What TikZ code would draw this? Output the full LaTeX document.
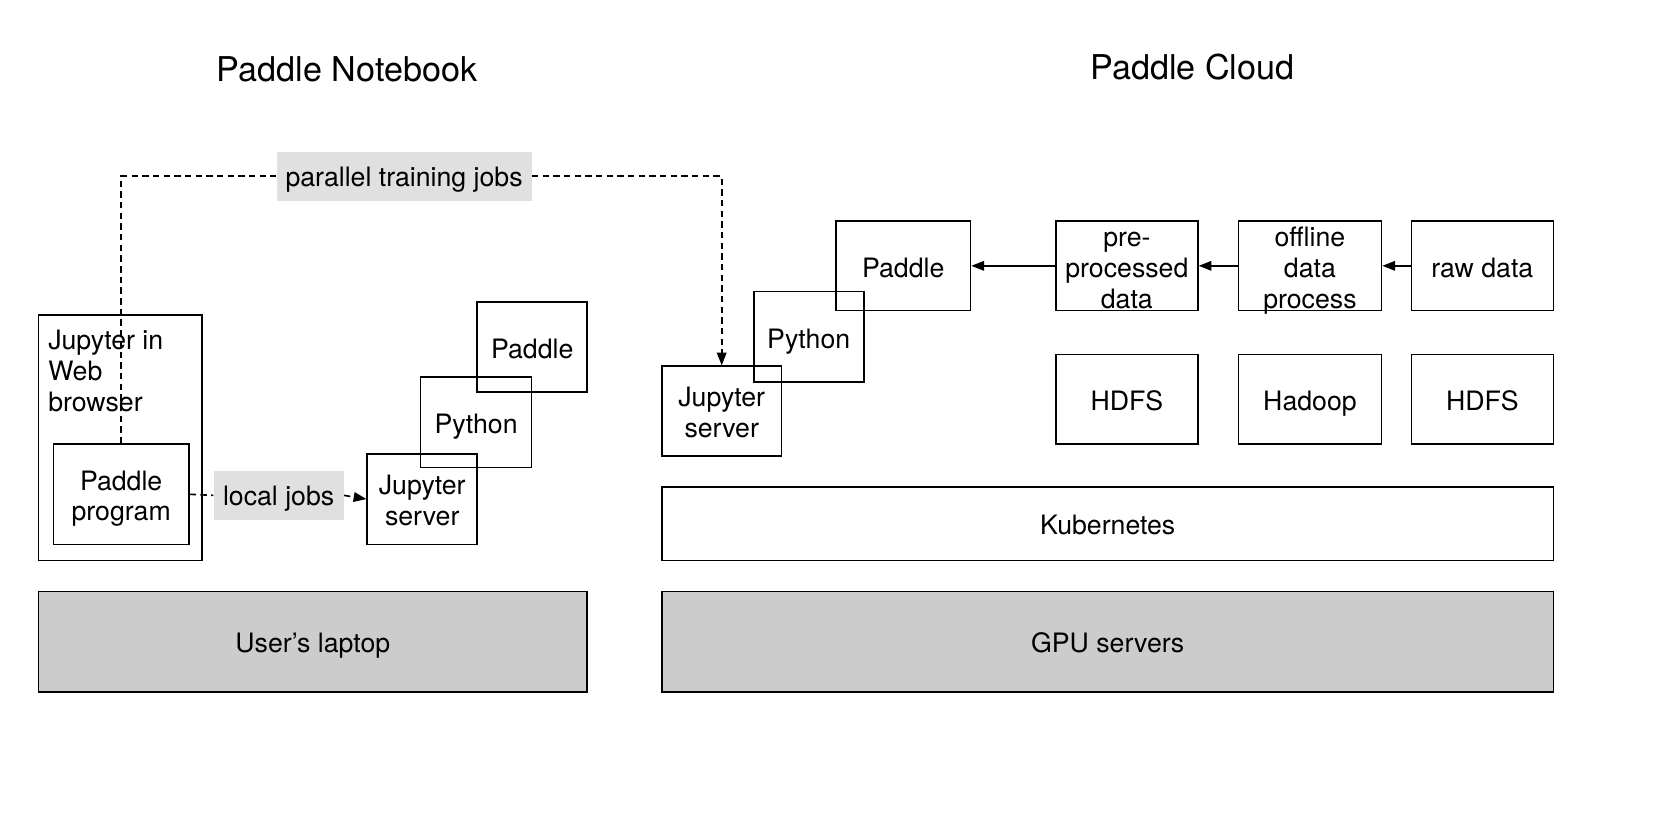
\documentclass[tikz,border=0pt]{standalone}
\usepackage{fontspec}
\setmainfont{TeX Gyre Heros}
\usetikzlibrary{arrows.meta}
\definecolor{labelgray}{HTML}{E0E0E0}
\definecolor{basegray}{HTML}{CCCCCC}
\newcommand{\mybodyfont}{\fontsize{25}{29}\selectfont}
\newcommand{\mytitlefont}{\fontsize{32}{38}\selectfont}
\begin{document}
\begin{tikzpicture}[x=1pt,y=-1pt,
  box/.style={draw=black, line width=1.5pt, inner sep=0pt, align=center, font=\mybodyfont,
              text height=21pt, text depth=0pt},
  two/.style={text height=50pt},
  three/.style={text height=79pt},
  base/.style={box, fill=basegray},
  lbl/.style={fill=labelgray, inner sep=0pt, font=\mybodyfont, text height=19pt, text depth=0pt},
  title/.style={inner sep=0pt, font=\mytitlefont},
  tip/.style={-{Triangle[length=12pt,width=9pt]}},
  conn/.style={line width=1.5pt, tip},
  dconn/.style={line width=1.5pt, dash pattern=on 6pt off 4pt},
]
\useasboundingbox (0,0) rectangle (1568,762);

% titles
\node[title] (tl) at (325,65) {Paddle Notebook};
\node[title] (tr) at (1117,63) {Paddle Cloud};

% left side
\node[box, minimum width=153pt, minimum height=230pt] (jwb) at (112.5,410) {};
\node[inner sep=0pt, anchor=north west, align=left, font=\mybodyfont] (jwbtxt) at (45,309) {Jupyter in\\Web\\browser};
\node[box, two, minimum width=127pt, minimum height=94pt] (prog) at (113.5,463) {Paddle\\program};
\node[box, two, minimum width=103pt, minimum height=85pt] (jsl) at (395.5,467.5) {Jupyter\\server};
\node[box, minimum width=104pt, minimum height=85pt] (pyl) at (446,395.5) {Python};
\node[box, minimum width=103pt, minimum height=84pt] (pdl) at (498.5,325) {Paddle};
\node[base, minimum width=514pt, minimum height=94pt] (laptop) at (293,601) {User’s laptop};

% right side
\node[base, minimum width=835pt, minimum height=94pt] (gpu) at (1037.5,601) {GPU servers};
\node[box, minimum width=835pt, minimum height=69pt] (kub) at (1037.5,490.5) {Kubernetes};
\node[box, two, minimum width=112pt, minimum height=84pt] (jsr) at (676,385) {Jupyter\\server};
\node[box, minimum width=103pt, minimum height=85pt] (pyr) at (757.5,315.5) {Python};
\node[box, minimum width=126pt, minimum height=84pt] (pdr) at (846,249) {Paddle};
\node[box, three, minimum width=133pt, minimum height=84pt] (pre) at (1055.5,249) {pre-\\processed\\data};
\node[box, three, minimum width=134pt, minimum height=84pt] (off) at (1227,249) {offline\\data\\process};
\node[box, minimum width=133pt, minimum height=84pt] (raw) at (1388.5,249) {raw data};
\node[box, minimum width=133pt, minimum height=84pt] (hdfsa) at (1055.5,374) {HDFS};
\node[box, minimum width=134pt, minimum height=84pt] (hadoop) at (1227,374) {Hadoop};
\node[box, minimum width=133pt, minimum height=84pt] (hdfsb) at (1388.5,374) {HDFS};

% labels
\node[lbl, minimum width=239pt, minimum height=46pt] (ptj) at (378.5,165) {parallel training jobs};
\node[lbl, minimum width=122pt, minimum height=46pt] (lj) at (261,464) {local jobs};

% connectors
\draw[dconn] (prog.north) |- (ptj.west);
\draw[dconn, tip] (ptj.east) -| (jsr.north);
\draw[dconn] (prog.east) -- (lj.west);
\draw[dconn, tip] (lj.east) -- (jsl.west);
\draw[conn] (raw.west) -- (off.east);
\draw[conn] (off.west) -- (pre.east);
\draw[conn] (pre.west) -- (pdr.east);
\end{tikzpicture}
\end{document}
